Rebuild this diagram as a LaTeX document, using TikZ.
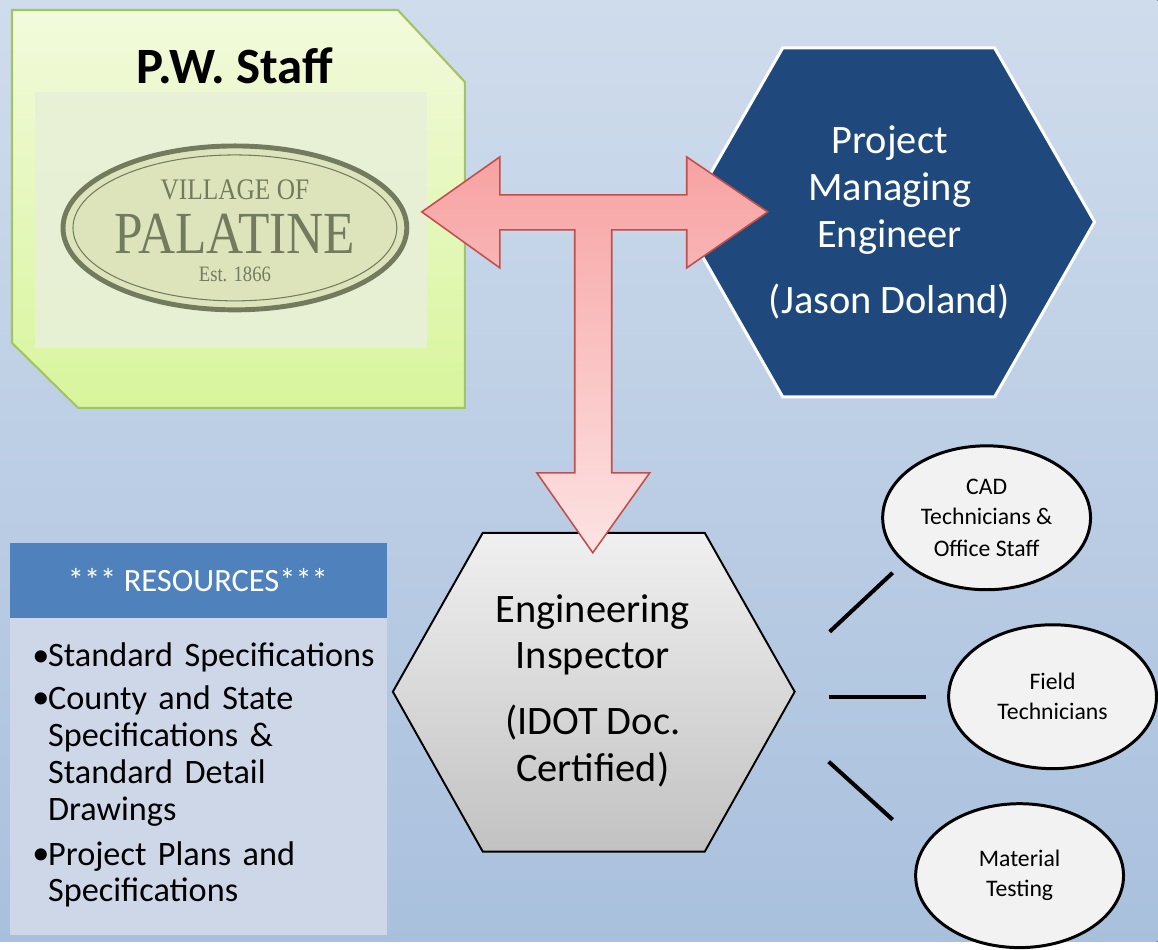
\documentclass[tikz,border=0pt]{standalone}
\usepackage{fontspec}
\setmainfont{Carlito}
\newfontfamily\logofont{Liberation Serif}
\usetikzlibrary{shapes.geometric}

\definecolor{bgtop}{HTML}{CFDCEC}
\definecolor{bgbottom}{HTML}{A9C0DD}
\definecolor{staffline}{HTML}{A2C563}
\definecolor{stafftop}{HTML}{F2FADC}
\definecolor{staffbottom}{HTML}{D8F59C}
\definecolor{logoink}{HTML}{737B5E}
\definecolor{logoback}{HTML}{E8F0D8}
\definecolor{logooval}{HTML}{DDE4BC}
\definecolor{arrowline}{HTML}{C0504D}
\definecolor{arrowtop}{HTML}{F7A2A2}
\definecolor{arrowbottom}{HTML}{FDE3E3}
\definecolor{pmeblue}{HTML}{1F497D}
\definecolor{resblue}{HTML}{4F81BD}
\definecolor{resbody}{HTML}{CED7E8}

\newcommand{\resitem}[1]{\noindent\makebox[9pt][l]{\raisebox{0.5pt}{\textbullet}}\begin{tabular}[t]{@{}l@{}}#1\end{tabular}\par}

\begin{document}
\begin{tikzpicture}[x=0.02cm,y=-0.02cm]
\tikzstyle{bubble}=[ellipse,draw=black,line width=1.7pt,fill=black!5,minimum width=4.16cm,minimum height=2.88cm,inner sep=0pt,align=center,font=\fontsize{13.5}{17}\selectfont]
\tikzstyle{hextext}=[align=center,font=\fontsize{23}{26.6}\selectfont]
\tikzstyle{link}=[line width=2.3pt,black]
\tikzstyle{logotext}=[text=logoink,inner sep=0pt]
% background
\fill[top color=bgtop,bottom color=bgbottom] (0,0) rectangle (1158,942);
% P.W. Staff box
\draw[staffline,line width=1.2pt,top color=stafftop,bottom color=staffbottom]
  (12,10) -- (398,10) -- (465,82) -- (465,408) -- (78,408) -- (12,343) -- cycle;
\fill[logoback,opacity=0.9] (35,92) rectangle (427,348);
\draw[logoink,line width=2.8pt,fill=logooval] (235,228) ellipse [x radius=3.44cm,y radius=1.64cm];
\draw[logoink,line width=0.6pt] (235,228) ellipse [x radius=3.24cm,y radius=1.46cm];
\node[logotext,font=\logofont\fontsize{17}{17}\selectfont] (village) at (235,190) {\scalebox{0.85}[1]{VILLAGE OF}};
\node[logotext,font=\logofont\fontsize{34}{34}\selectfont] (palatine) at (235,234) {\scalebox{0.86}[1]{PALATINE}};
\node[logotext,font=\logofont\fontsize{12.5}{12.5}\selectfont] (est) at (235,274) {\scalebox{0.85}[1]{Est. 1866}};
\node[font=\bfseries\fontsize{29}{29}\selectfont] (pwstaff) at (235,66) {P.W. Staff};
% Project Managing Engineer
\draw[white,line width=1.7pt,fill=pmeblue]
  (783,48) -- (995,48) -- (1095,222) -- (995,397) -- (783,397) -- (683,222) -- cycle;
\node[hextext,text=white] (pme) at (890,190) {Project\\Managing\\Engineer};
\node[hextext,text=white] (pmename) at (890,302) {(Jason Doland)};
% Engineering Inspector
\draw[black,line width=1.1pt,top color=black!6,bottom color=black!24]
  (483,533) -- (705,533) -- (795,692) -- (705,852) -- (483,852) -- (393,692) -- cycle;
\node[hextext] (insp) at (593,635) {Engineering\\Inspector};
\node[hextext] (inspnote) at (593,746) {(IDOT Doc.\\Certified)};
% three way arrow
\draw[arrowline,line width=0.9pt,top color=arrowtop,bottom color=arrowbottom,line join=miter]
  (422,212) -- (500,157) -- (500,195) -- (687,195) -- (687,157) -- (768,212)
  -- (687,268) -- (687,230) -- (612,230) -- (612,473) -- (650,473) -- (593,553)
  -- (537,473) -- (575,473) -- (575,230) -- (500,230) -- (500,268) -- cycle;
% resources
\fill[resbody] (10,618) rectangle (387,935);
\fill[resblue] (10,543) rectangle (387,618);
\node[text=white,font=\fontsize{18.5}{18.5}\selectfont] (reshead) at (198,580) {*** RESOURCES***};
\node[anchor=north west,text width=6.9cm,inner sep=0pt,font=\fontsize{19.5}{21}\selectfont] (reslist) at (32,641)
  {\setlength{\parskip}{3.4pt}%
   \resitem{Standard Specifications}
   \resitem{County and State\\Specifications \&\\Standard Detail\\Drawings}
   \resitem{Project Plans and\\Specifications}};
% staff around the inspector
\node[bubble] (cad) at (987,518) {CAD\\Technicians \&\\[1.5pt]Office Staff};
\node[bubble] (field) at (1053,697) {Field\\Technicians};
\node[bubble] (material) at (1020,876) {Material\\Testing};
\coordinate (cad_a) at (830,632);
\coordinate (cad_b) at (893,573);
\coordinate (field_a) at (829,697);
\coordinate (field_b) at (926,697);
\coordinate (mat_a) at (829,762);
\coordinate (mat_b) at (893,820);
\draw[link] (cad_a) -- (cad_b);
\draw[link] (field_a) -- (field_b);
\draw[link] (mat_a) -- (mat_b);
\end{tikzpicture}
\end{document}
